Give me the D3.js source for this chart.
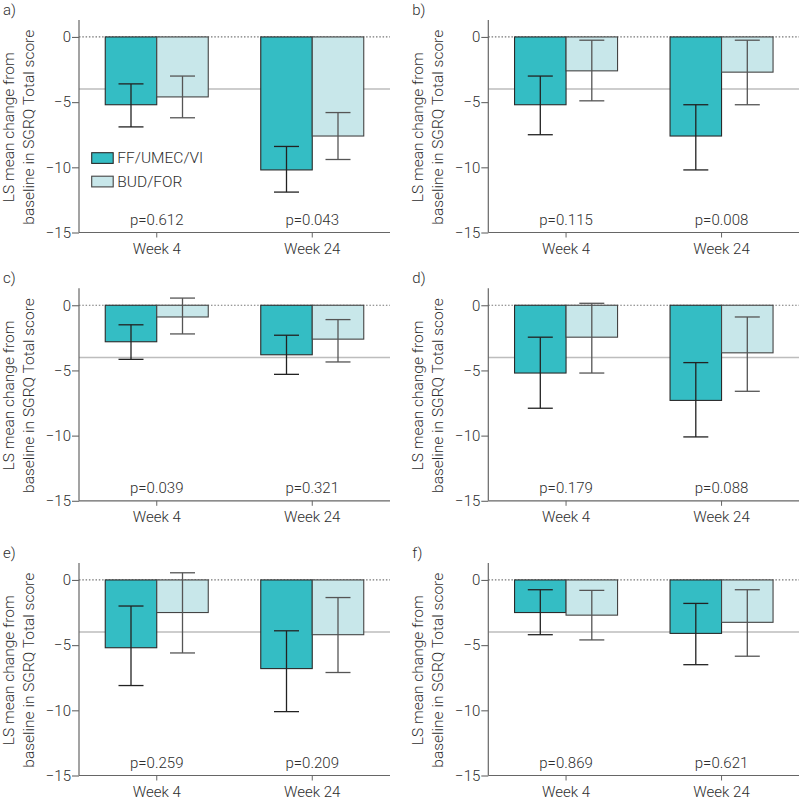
<!DOCTYPE html>
<html>
<head>
<meta charset="utf-8">
<script src="https://cdn.jsdelivr.net/npm/d3@7"></script>
<style>
  html, body { margin: 0; padding: 0; background: #fff; }
  svg { display: block; font-family: Roboto, "Open Sans", sans-serif; }
  svg text { font-weight: 300; }
</style>
</head>
<body>
<svg id="chart" width="799" height="803"></svg>
<script>
// ---------- data ----------
const panelLabels = ["a)", "b)", "c)", "d)", "e)", "f)"];
const weeks = ["Week 4", "Week 24"];
const series = ["FF/UMEC/VI", "BUD/FOR"];
const yTicks = [0, -5, -10, -15];
const mcid = -4;

const ffMean = [[-5.2, -10.2], [-5.2, -7.6], [-2.8, -3.8], [-5.2, -7.3], [-5.2, -6.8], [-2.5, -4.1]];
const ffLow  = [[-6.9, -11.9], [-7.5, -10.2], [-4.15, -5.3], [-7.9, -10.1], [-8.1, -10.1], [-4.2, -6.5]];
const ffHigh = [[-3.6, -8.4], [-3.0, -5.2], [-1.5, -2.3], [-2.45, -4.4], [-2.0, -3.9], [-0.75, -1.8]];

const budMean = [[-4.6, -7.6], [-2.6, -2.7], [-0.9, -2.6], [-2.45, -3.65], [-2.5, -4.2], [-2.7, -3.25]];
const budLow  = [[-6.2, -9.4], [-4.9, -5.2], [-2.2, -4.35], [-5.2, -6.6], [-5.6, -7.1], [-4.6, -5.85]];
const budHigh = [[-3.0, -5.8], [-0.25, -0.25], [0.55, -1.1], [0.15, -0.9], [0.55, -1.35], [-0.8, -0.75]];

const pValues = [
  ["p=0.612", "p=0.043"], ["p=0.115", "p=0.008"], ["p=0.039", "p=0.321"],
  ["p=0.179", "p=0.088"], ["p=0.259", "p=0.209"], ["p=0.869", "p=0.621"]
];

// ---------- styles / layout ----------
const colors = { "FF/UMEC/VI": "#34bdc4", "BUD/FOR": "#c8e7ea" };
const errColors = { "FF/UMEC/VI": "#222", "BUD/FOR": "#555" };
const strokeColors = { "FF/UMEC/VI": "#2b2b2b", "BUD/FOR": "#444" };
const textColor = "#2e2e2e";
const colX = [79, 488.3];
const rowY = [20, 288.3, 563];
const plotW = 311;
const plotH = 212.5;

const svg = d3.select("#chart");

panelLabels.forEach((lab, i) => {
  const col = i % 2, row = Math.floor(i / 2);
  const g = svg.append("g").attr("transform", `translate(${colX[col]},${rowY[row]})`);

  const y = d3.scaleLinear().domain([-15, 1.3]).range([plotH, 0]);
  const x0 = d3.scaleBand().domain(weeks).range([0, plotW]).padding(0);
  const x1 = d3.scaleBand().domain(series).range([-51.5, 51.5]);

  const means = { "FF/UMEC/VI": ffMean[i], "BUD/FOR": budMean[i] };
  const lows = { "FF/UMEC/VI": ffLow[i], "BUD/FOR": budLow[i] };
  const highs = { "FF/UMEC/VI": ffHigh[i], "BUD/FOR": budHigh[i] };

  // MCID reference line (behind bars)
  g.append("line")
    .attr("x1", 0).attr("x2", plotW)
    .attr("y1", y(mcid)).attr("y2", y(mcid))
    .attr("stroke", "#bdbdbd").attr("stroke-width", 1.5);

  // zero dotted line
  g.append("line")
    .attr("x1", 0).attr("x2", plotW)
    .attr("y1", y(0)).attr("y2", y(0))
    .attr("stroke", "#777").attr("stroke-width", 1.2)
    .attr("stroke-dasharray", "1.5,1.8");

  // bars
  const data = [];
  weeks.forEach((w, wi) => series.forEach(s => data.push({
    week: w, s, mean: means[s][wi], lo: lows[s][wi], hi: highs[s][wi]
  })));

  const cx = d => x0(d.week) + x0.bandwidth() / 2 + x1(d.s);

  g.selectAll("rect.bar").data(data).join("rect")
    .attr("class", "bar")
    .attr("x", d => cx(d))
    .attr("width", x1.bandwidth())
    .attr("y", d => y(0))
    .attr("height", d => y(d.mean) - y(0))
    .attr("fill", d => colors[d.s])
    .attr("stroke", d => strokeColors[d.s])
    .attr("stroke-width", 1.1);

  // error bars
  const capW = 25;
  const eb = g.selectAll("g.err").data(data).join("g").attr("class", "err")
    .attr("stroke", d => errColors[d.s]).attr("stroke-width", 1.3);
  eb.append("line")
    .attr("x1", d => cx(d) + x1.bandwidth() / 2).attr("x2", d => cx(d) + x1.bandwidth() / 2)
    .attr("y1", d => y(d.hi)).attr("y2", d => y(d.lo));
  eb.append("line")
    .attr("x1", d => cx(d) + x1.bandwidth() / 2 - capW / 2).attr("x2", d => cx(d) + x1.bandwidth() / 2 + capW / 2)
    .attr("y1", d => y(d.hi)).attr("y2", d => y(d.hi));
  eb.append("line")
    .attr("x1", d => cx(d) + x1.bandwidth() / 2 - capW / 2).attr("x2", d => cx(d) + x1.bandwidth() / 2 + capW / 2)
    .attr("y1", d => y(d.lo)).attr("y2", d => y(d.lo));

  // y axis
  const yAx = g.append("g")
    .call(d3.axisLeft(y).tickValues(yTicks).tickSize(7).tickPadding(1).tickFormat(d3.format("d")));
  yAx.select(".domain").attr("d", `M0,0V${plotH}`).attr("stroke", "#666").attr("stroke-width", 1.2);
  yAx.selectAll(".tick line").attr("stroke", "#666").attr("stroke-width", 1.1);
  yAx.selectAll("text").attr("font-size", 15).attr("fill", textColor).attr("font-family", "Roboto, sans-serif");

  // x axis
  const xAx = g.append("g").attr("transform", `translate(0,${plotH})`)
    .call(d3.axisBottom(x0).tickSize(5).tickPadding(6));
  xAx.select(".domain").attr("d", `M0,0H${plotW}`).attr("stroke", "#666").attr("stroke-width", 1.2);
  xAx.selectAll(".tick line").attr("stroke", "#666");
  xAx.selectAll("text").attr("font-size", 15).attr("fill", textColor).attr("font-family", "Roboto, sans-serif");

  // p-values
  g.selectAll("text.pval").data(weeks).join("text")
    .attr("class", "pval")
    .attr("x", w => x0(w) + x0.bandwidth() / 2)
    .attr("y", plotH - 8)
    .attr("text-anchor", "middle")
    .attr("font-size", 15).attr("fill", textColor)
    .text((w, wi) => pValues[i][wi]);

  // y-axis title (two lines)
  const yc = plotH / 2 + 1;
  g.append("text")
    .attr("transform", `translate(-65,${yc}) rotate(-90)`)
    .attr("text-anchor", "middle").attr("font-size", 15.5).attr("fill", textColor)
    .text("LS mean change from");
  g.append("text")
    .attr("transform", `translate(-45,${yc}) rotate(-90)`)
    .attr("text-anchor", "middle").attr("font-size", 15.5).attr("fill", textColor)
    .text("baseline in SGRQ Total score");

  // panel label
  g.append("text")
    .attr("x", -76).attr("y", -5.5)
    .attr("font-size", 15).attr("fill", textColor)
    .text(lab);

  // legend in first panel
  if (i === 0) {
    const lg = g.append("g").attr("transform", "translate(12.7,132.7)");
    series.forEach((s, si) => {
      const row = lg.append("g").attr("transform", `translate(0,${si * 23.5})`);
      row.append("rect").attr("x", 0).attr("y", 0).attr("width", 21.5).attr("height", 10.7)
        .attr("fill", colors[s]).attr("stroke", strokeColors[s]).attr("stroke-width", 1.1);
      row.append("text").attr("x", 25.6).attr("y", 10.3)
        .attr("font-size", 15.5).attr("fill", textColor).text(s);
    });
  }
});
</script>
</body>
</html>
